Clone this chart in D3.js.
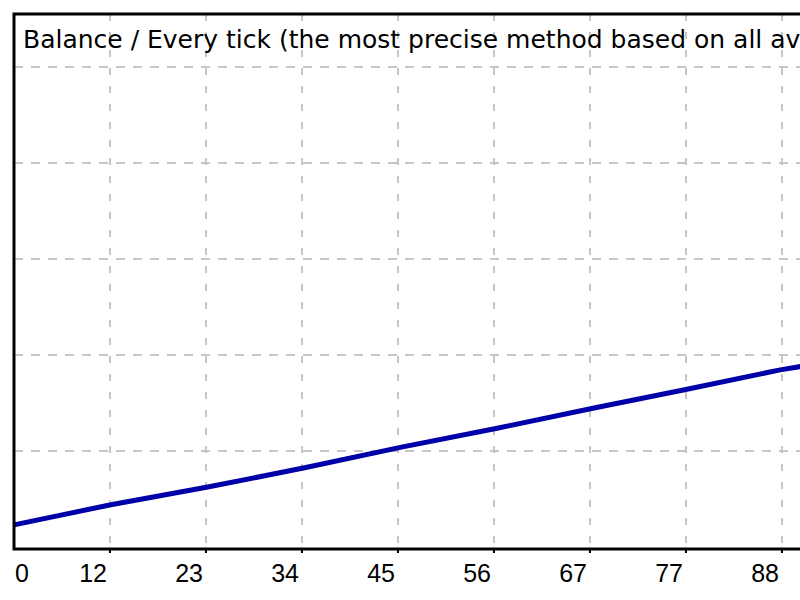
<!DOCTYPE html>
<html>
<head>
<meta charset="utf-8">
<script src="https://cdn.jsdelivr.net/npm/d3@7"></script>
<style>
  html, body { margin: 0; padding: 0; background: #fff; }
  svg { display: block; }
</style>
</head>
<body>
<div id="chart"></div>
<script>
// balance curve (y axis labels are cut off, values are estimates)
const trades = [1, 12, 23, 34, 45, 56, 67, 77, 88, 92];
const balance = [10046, 10088, 10125, 10165, 10208, 10248, 10290, 10327, 10369, 10381];

const tickLabels = ["0", "12", "23", "34", "45", "56", "67", "77", "88"];
const gridValues = [10200, 10400, 10600, 10800, 11000];

const title = "Balance / Every tick (the most precise method based on all available least timeframes to generate each tick)";

const width = 800, height = 600;
const plotLeft = 14, plotTop = 14, plotBottom = 549;
const step = 96; // pixels between grid columns

const svg = d3.select("#chart").append("svg")
    .attr("width", width)
    .attr("height", height);

const x = d3.scaleLinear()
    .domain([1, 88.2])
    .range([plotLeft, plotLeft + 8 * step]);

const y = d3.scaleLinear()
    .domain([10000, 11000])
    .range([547, 67]);

// grid columns are evenly spaced, one per tick label
const xTick = d3.scalePoint()
    .domain(tickLabels)
    .range([plotLeft, plotLeft + 8 * step]);

const grid = svg.append("g");

grid.selectAll(".vgrid").data(tickLabels.slice(1)).join("line")
    .attr("class", "vgrid")
    .attr("x1", d => xTick(d)).attr("x2", d => xTick(d))
    .attr("y1", plotTop).attr("y2", plotBottom)
    .attr("stroke", "#c6c6c6")
    .attr("stroke-width", 2)
    .attr("stroke-dasharray", "7,11");

grid.selectAll(".hgrid").data(gridValues).join("line")
    .attr("class", "hgrid")
    .attr("x1", plotLeft).attr("x2", width)
    .attr("y1", d => y(d)).attr("y2", d => y(d))
    .attr("stroke", "#c6c6c6")
    .attr("stroke-width", 2)
    .attr("stroke-dasharray", "9,8");

// title (runs past the right edge like in the original window)
svg.append("text")
    .attr("x", 23)
    .attr("y", 48)
    .style("font-family", "'DejaVu Sans', Verdana, sans-serif")
    .style("font-size", "25px")
    .style("fill", "#000")
    .text(title);

// balance line
const line = d3.line()
    .x((d, i) => x(trades[i]))
    .y(d => y(d));

svg.append("path")
    .datum(balance)
    .attr("d", line)
    .attr("fill", "none")
    .attr("stroke", "#0000a8")
    .attr("stroke-width", 5);

// frame
svg.append("path")
    .attr("d", `M${width + 10},${plotTop} H${plotLeft} V${plotBottom} H${width + 10}`)
    .attr("fill", "none")
    .attr("stroke", "#000")
    .attr("stroke-width", 3);

// small tick marks under the axis
svg.selectAll(".tick-mark").data(tickLabels.slice(1)).join("line")
    .attr("class", "tick-mark")
    .attr("x1", d => xTick(d)).attr("x2", d => xTick(d))
    .attr("y1", plotBottom).attr("y2", plotBottom + 4)
    .attr("stroke", "#000")
    .attr("stroke-width", 2);

svg.selectAll(".tick-label").data(tickLabels).join("text")
    .attr("class", "tick-label")
    .attr("x", (d, i) => i === 0 ? plotLeft + 1 : xTick(d) - 3)
    .attr("y", 582)
    .attr("text-anchor", (d, i) => i === 0 ? "start" : "end")
    .style("font-family", "'Liberation Sans', Arial, sans-serif")
    .style("font-size", "25px")
    .style("fill", "#000")
    .text(d => d);
</script>
</body>
</html>
